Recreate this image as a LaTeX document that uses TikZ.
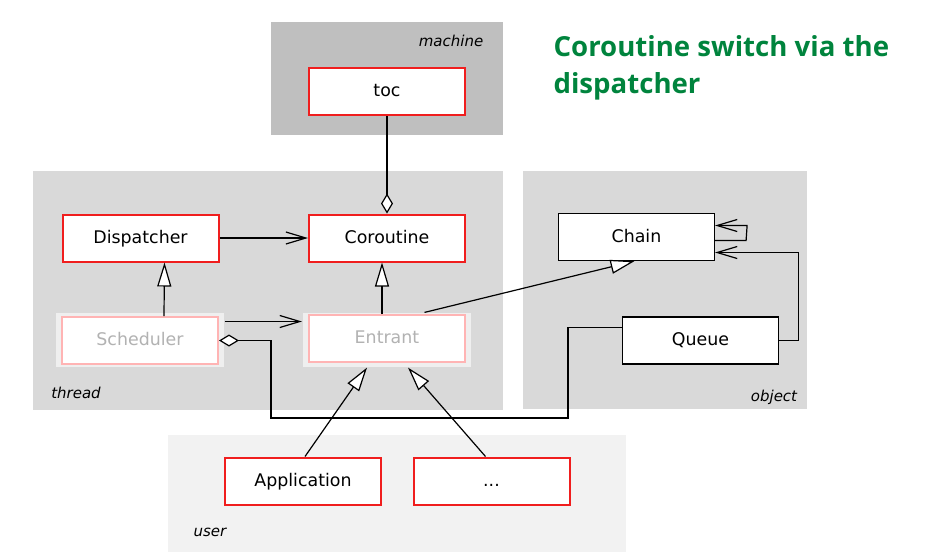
\documentclass[tikz,border=0pt]{standalone}
\usepackage{fontspec}
\setmainfont{DejaVu Sans}
\newfontfamily\titlefont{Open Sans}
\usetikzlibrary{arrows.meta}
\definecolor{machinegray}{RGB}{191,191,191}
\definecolor{layergray}{RGB}{217,217,217}
\definecolor{usergray}{RGB}{242,242,242}
\definecolor{shadegray}{RGB}{239,239,239}
\definecolor{boxred}{RGB}{240,30,30}
\definecolor{palered}{RGB}{255,180,180}
\definecolor{palegray}{RGB}{178,178,178}
\definecolor{titlegreen}{RGB}{0,132,61}

\begin{document}
\begin{tikzpicture}[x=0.5pt, y=-0.5pt,
    cls/.style={draw=boxred, line width=1pt, fill=white, minimum width=78pt,
        minimum height=23.5pt, inner sep=0pt, text height=0.75em, text depth=0.22em,
        font=\fontsize{8.7}{10}\selectfont},
    plain/.style={cls, draw=black, line width=0.6pt},
    faded/.style={cls, draw=palered, text=palegray},
    shade/.style={fill=shadegray, minimum width=84pt, minimum height=27pt, inner sep=0pt},
    layer/.style={font=\fontsize{7.5}{9}\selectfont\itshape},
    inherit/.style={-{Triangle[open, fill=white, length=12pt, width=7pt]}},
    uses/.style={-{Straight Barb[length=10pt, width=6pt]}},
    holds/.style={{Diamond[open, fill=white, length=10pt, width=6pt]}-},
    line width=0.6pt]
    \useasboundingbox (0,0) rectangle (927,559);

    \fill[machinegray] (271,22) rectangle (503,135);
    \fill[layergray] (33,171) rectangle (503,410);
    \fill[layergray] (523,171) rectangle (807,409);
    \fill[usergray] (168,435) rectangle (626,552);

    \node[layer] at (451,41) (machine) {machine};
    \node[layer] at (76,393) (thread) {thread};
    \node[layer] at (774,397) (object) {object};
    \node[layer] at (210,532) (user) {user};

    \node[anchor=north west, align=left, text=titlegreen, inner sep=0pt,
        font=\titlefont\bfseries\fontsize{13.8}{18.5}\selectfont]
        at (553,35) (title) {Coroutine switch via the\\dispatcher};

    \node[cls] at (387,91) (toc) {toc};
    \node[cls] at (140.5,238) (disp) {Dispatcher};
    \node[cls] at (387,238) (coro) {Coroutine};
    \node[shade] at (140,339.5) (schedbg) {};
    \node[faded] at (140,340.5) (sched) {Scheduler};
    \node[shade] at (386.5,340) (entrbg) {};
    \node[faded] at (387,338.5) (entr) {Entrant};
    \node[plain] at (636.5,237) (chain) {Chain};
    \node[plain] at (700.5,340.5) (queue) {Queue};
    \node[cls] at (303,481) (app) {Application};
    \node[cls] at (491.5,481) (more) {...};
    \coordinate (bus) at (568,418);

    \draw[holds] (coro.north) -- (toc.south);
    \draw[uses] (disp) -- (coro);
    \draw[inherit] ([xshift=12pt]sched.north) -- ([xshift=12pt]disp.south);
    \draw[inherit] ([xshift=-2.5pt]entr.north) -- ([xshift=-2.5pt]coro.south);
    \draw[uses] ([yshift=9pt]schedbg.east) -- ([yshift=9pt]schedbg.east -| entrbg.west);
    \draw[holds] (sched.east) -- ++(52,0) |- (bus) |- ([yshift=6.5pt]queue.west);
    \draw[inherit] ([xshift=19pt]entrbg.north) -- ([xshift=-1pt]chain.south);
    \draw[uses] ([yshift=-1.75pt]chain.east) -- ++(31,0) -- ++(1,-15) -- ([yshift=5.75pt]chain.east);
    \draw[uses] (queue.east) -- ++(19,0) |- ([yshift=-7.75pt]chain.east);
    \draw[inherit] ([xshift=1pt]app.north) -- ([xshift=-9.75pt]entrbg.south);
    \draw[inherit] ([xshift=-3pt]more.north) -- ([xshift=10.75pt]entrbg.south);

\end{tikzpicture}
\end{document}
